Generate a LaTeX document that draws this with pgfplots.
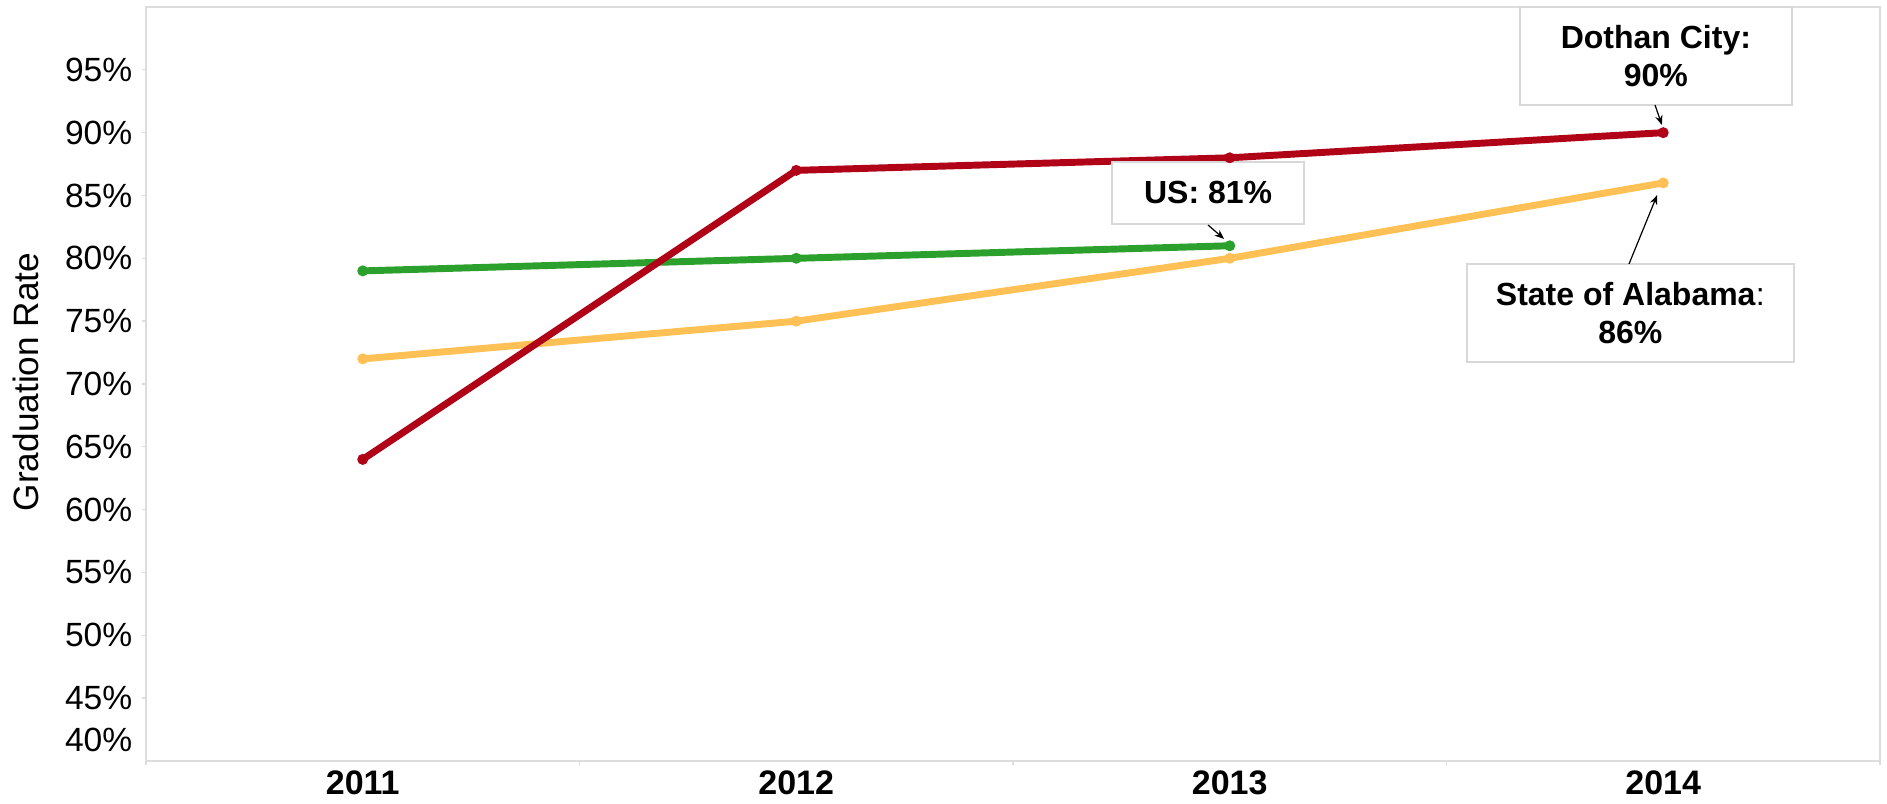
\documentclass[border=0pt]{standalone}
\usepackage{fontspec}
\setmainfont{Liberation Sans}
\usepackage{pgfplots}
\pgfplotsset{compat=1.18}
\usetikzlibrary{arrows.meta}
\definecolor{dred}{RGB}{177,3,24}
\definecolor{dgreen}{RGB}{44,160,44}
\definecolor{dorange}{RGB}{255,193,86}
\definecolor{framec}{RGB}{221,221,221}
\definecolor{boxline}{RGB}{216,216,216}
\begin{document}
\begin{tikzpicture}
\begin{axis}[name=ax, scale only axis, width=650.25pt, height=282.75pt,
  xmin=2010.5, xmax=2014.5, ymin=40, ymax=100,
  clip=false,
  /pgf/number format/assume math mode=true,
  axis line style={draw=framec, line width=0.6pt},
  tick align=outside,
  tick style={draw=framec, line width=0.5pt},
  major tick length=1.6pt,
  xtick pos=bottom, ytick pos=left,
  xtick={2010.5,2011.5,2012.5,2013.5,2014.5},
  xticklabels={},
  extra x ticks={2011,2012,2013,2014},
  extra x tick labels={2011,2012,2013,2014},
  extra x tick style={major tick length=0pt, tick style={draw=none}},
  ytick={45,50,55,60,65,70,75,80,85,90,95},
  yticklabels={45\%,50\%,55\%,60\%,65\%,70\%,75\%,80\%,85\%,90\%,95\%},
  extra y ticks={40},
  extra y tick labels={40\%},
  extra y tick style={yticklabel style={yshift=7.9pt}, tick style={draw=none}},
  x tick label style={font=\fontsize{12.75}{14}\selectfont\bfseries},
  y tick label style={font=\fontsize{12.6}{14}\selectfont},
  ylabel={Graduation Rate},
  every axis y label/.style={at={(axis description cs:-0.0690,0.5027)}, rotate=90, anchor=center, font=\fontsize{13.2}{14}\selectfont},
  every axis plot/.append style={line width=2.6pt, line join=round, mark=*, mark size=1.8pt},
]
\addplot[dorange, mark options={fill=dorange, draw=dorange, line width=0.5pt}] coordinates {(2011,72) (2012,75) (2013,80) (2014,86)};
\addplot[dgreen, mark options={fill=dgreen, draw=dgreen, line width=0.5pt}] coordinates {(2011,79) (2012,80) (2013,81)};
\addplot[dred, mark options={fill=dred, draw=dred, line width=0.5pt}] coordinates {(2011,64) (2012,87) (2013,88) (2014,90)};

\node[draw=boxline, fill=white, line width=0.6pt, minimum width=102pt, minimum height=36.75pt, align=center, inner sep=0pt, font=\fontsize{12}{14}\selectfont\bfseries] at (axis cs:2013.983,96.1) {Dothan City:\\90\%};
\node[draw=boxline, fill=white, line width=0.6pt, minimum width=72pt, minimum height=23.25pt, align=center, inner sep=0pt, font=\fontsize{12}{14}\selectfont\bfseries] at (axis cs:2012.950,85.20) {US: 81\%};
\node[draw=boxline, fill=white, line width=0.6pt, minimum width=122.6pt, minimum height=36.75pt, align=center, inner sep=0pt, font=\fontsize{12}{14}\selectfont] at (axis cs:2013.924,75.65) {\textbf{State of Alabama}:\\\textbf{86\%}};

\draw[-{Stealth[length=3.6pt,width=2.8pt]}, line width=0.45pt] (axis cs:2013.981,92.2) -- (axis cs:2013.997,90.61);
\draw[-{Stealth[length=3.6pt,width=2.8pt]}, line width=0.45pt] (axis cs:2012.950,82.65) -- (axis cs:2012.987,81.54);
\draw[-{Stealth[length=3.6pt,width=2.8pt]}, line width=0.45pt] (axis cs:2013.921,79.55) -- (axis cs:2013.986,85.04);
\end{axis}
\pgfresetboundingbox
\path[use as bounding box] ([shift={(-54.75pt,-16.125pt)}]ax.south west) rectangle ([shift={(652.875pt,285.375pt)}]ax.south west);
\end{tikzpicture}
\end{document}
